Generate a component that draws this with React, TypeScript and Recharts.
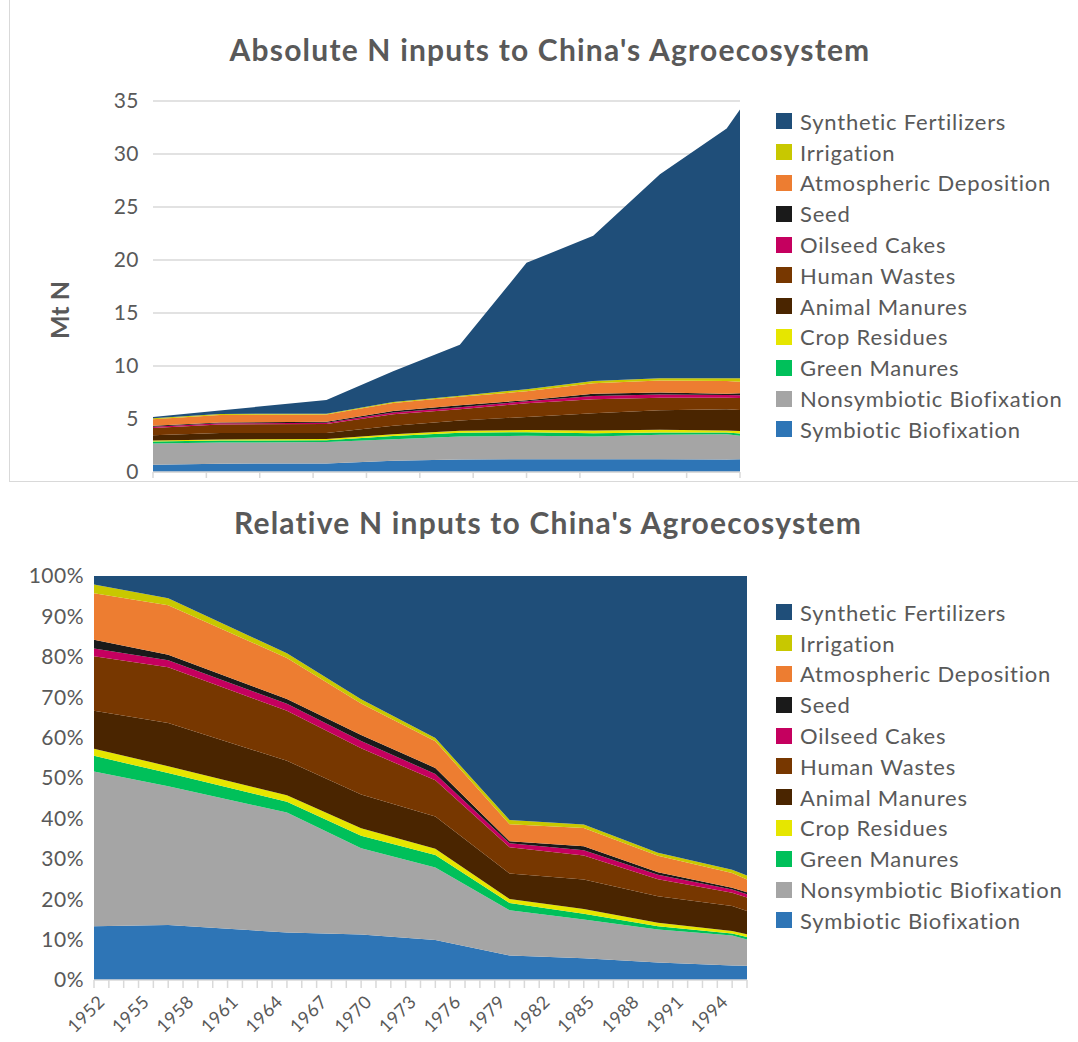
import { Area, AreaChart, CartesianGrid, XAxis, YAxis } from "recharts";

const years = [1952, 1957, 1965, 1970, 1975, 1980, 1985, 1990, 1995, 1996];

// Mt N per source
const symbiotic = [0.69, 0.79, 0.8, 1.07, 1.19, 1.2, 1.2, 1.21, 1.17, 1.2];
const nonsymbiotic = [1.99, 1.99, 2.02, 2.03, 2.15, 2.21, 2.14, 2.3, 2.4, 2.22];
const greenManures = [0.2, 0.19, 0.18, 0.29, 0.37, 0.35, 0.31, 0.22, 0.16, 0.21];
const cropResidues = [0.09, 0.1, 0.11, 0.18, 0.19, 0.2, 0.27, 0.25, 0.19, 0.24];
const animalManures = [0.49, 0.62, 0.58, 0.79, 0.96, 1.24, 1.63, 1.85, 2.01, 1.98];
const humanWastes = [0.7, 0.8, 0.84, 1.09, 1.07, 1.28, 1.32, 1.18, 1.07, 1.13];
const oilseedCakes = [0.1, 0.1, 0.12, 0.17, 0.19, 0.2, 0.29, 0.31, 0.26, 0.27];
const seed = [0.11, 0.08, 0.08, 0.14, 0.18, 0.1, 0.22, 0.17, 0.13, 0.17];
const atmospheric = [0.6, 0.71, 0.69, 0.74, 0.79, 0.83, 1.0, 1.15, 1.2, 1.09];
const irrigation = [0.11, 0.1, 0.08, 0.1, 0.1, 0.2, 0.2, 0.2, 0.26, 0.34];
const synthetic = [0.11, 0.32, 1.3, 2.9, 4.81, 11.92, 13.71, 19.25, 23.55, 25.34];

const series = [
  { key: "symbiotic", name: "Symbiotic Biofixation", color: "#2E75B6", values: symbiotic },
  { key: "nonsymbiotic", name: "Nonsymbiotic Biofixation", color: "#A5A5A5", values: nonsymbiotic },
  { key: "green", name: "Green Manures", color: "#00C05A", values: greenManures },
  { key: "crop", name: "Crop Residues", color: "#E6E600", values: cropResidues },
  { key: "animal", name: "Animal Manures", color: "#4A2500", values: animalManures },
  { key: "human", name: "Human Wastes", color: "#773700", values: humanWastes },
  { key: "oilseed", name: "Oilseed Cakes", color: "#C5005F", values: oilseedCakes },
  { key: "seed", name: "Seed", color: "#1A1A1A", values: seed },
  { key: "atmo", name: "Atmospheric Deposition", color: "#ED7D31", values: atmospheric },
  { key: "irrigation", name: "Irrigation", color: "#C8C800", values: irrigation },
  { key: "synthetic", name: "Synthetic Fertilizers", color: "#1F4E79", values: synthetic },
];

const absTicks = [0, 5, 10, 15, 20, 25, 30, 35];
const pctTicks = [0, 0.1, 0.2, 0.3, 0.4, 0.5, 0.6, 0.7, 0.8, 0.9, 1];
const evenYears = Array.from({ length: 23 }, (_, i) => 1952 + i * 2);
const allYears = Array.from({ length: 45 }, (_, i) => 1952 + i);

const rows = years.map((year, i) => {
  const row: Record<string, number> = { year };
  series.forEach((s) => {
    row[s.key] = s.values[i];
  });
  return row;
});

const textColor = "#595959";
const gridColor = "#D9D9D9";

const titleStyle = {
  position: "absolute" as const,
  transform: "translateX(-50%)",
  whiteSpace: "nowrap" as const,
  fontSize: 30,
  letterSpacing: 1.2,
  fontWeight: 700,
  color: textColor,
};

function LegendBox({ top }: { top: number }) {
  return (
    <div style={{ position: "absolute", left: 776, top }}>
      {[...series].reverse().map((s) => (
        <div
          key={s.key}
          style={{
            display: "flex",
            alignItems: "center",
            height: 30.8,
            fontSize: 22,
            letterSpacing: 0.8,
            color: textColor,
            whiteSpace: "nowrap",
          }}
        >
          <span style={{ width: 16, height: 16, background: s.color, marginRight: 8, display: "inline-block" }} />
          {s.name}
        </div>
      ))}
    </div>
  );
}

function YearTick(props: any) {
  const { x, y, payload } = props;
  if ((payload.value - 1952) % 3 !== 0) return <g />;
  return (
    <text
      x={x + 3}
      y={y + 4}
      transform={`rotate(-45, ${x + 3}, ${y + 4})`}
      textAnchor="end"
      dy="0.7em"
      fontSize={18}
      letterSpacing={0.5}
      fill={textColor}
    >
      {payload.value}
    </text>
  );
}

function areas() {
  return series.map((s) => (
    <Area
      key={s.key}
      type="linear"
      dataKey={s.key}
      name={s.name}
      stackId="1"
      stroke="none"
      fill={s.color}
      fillOpacity={1}
      isAnimationActive={false}
    />
  ));
}

export default function App() {
  return (
    <div
      style={{
        position: "absolute",
        left: 0,
        top: 0,
        width: 1078,
        height: 1042,
        background: "#fff",
        fontFamily: "Lato, 'Open Sans', sans-serif",
        overflow: "hidden",
      }}
    >
      <div
        style={{
          position: "absolute",
          left: 9,
          top: 0,
          width: 1069,
          height: 481,
          borderLeft: `1px solid ${gridColor}`,
          borderBottom: `1px solid ${gridColor}`,
        }}
      />

      <div style={{ ...titleStyle, left: 550, top: 31 }}>Absolute N inputs to China's Agroecosystem</div>

      <div
        style={{
          position: "absolute",
          left: 59,
          top: 310,
          transform: "translate(-50%, -50%) rotate(-90deg)",
          whiteSpace: "nowrap",
          fontSize: 25,
          fontWeight: 700,
          color: textColor,
        }}
      >
        Mt N
      </div>

      <div style={{ position: "absolute", left: 0, top: 0 }}>
        <AreaChart width={1078} height={490} data={rows} margin={{ top: 101, right: 338, bottom: 6, left: 93 }}>
          <CartesianGrid vertical={false} stroke={gridColor} strokeWidth={1.5} />
          <XAxis
            dataKey="year"
            type="number"
            domain={[1952, 1996]}
            ticks={evenYears}
            height={12}
            tick={() => <g />}
            tickSize={6}
            axisLine={{ stroke: gridColor, strokeWidth: 1.5 }}
            tickLine={{ stroke: gridColor, strokeWidth: 1.5 }}
          />
          <YAxis
            type="number"
            domain={[0, 35]}
            ticks={absTicks}
            width={60}
            axisLine={false}
            tickLine={false}
            tickMargin={8}
            tick={{ fill: textColor, fontSize: 21, letterSpacing: 0.5 }}
          />
          {areas()}
        </AreaChart>
      </div>
      <LegendBox top={106} />

      <div style={{ ...titleStyle, left: 548, top: 504 }}>Relative N inputs to China's Agroecosystem</div>

      <div style={{ position: "absolute", left: 0, top: 490 }}>
        <AreaChart
          width={1078}
          height={552}
          data={rows}
          stackOffset="expand"
          margin={{ top: 86, right: 331, bottom: 2, left: 34 }}
        >
          <XAxis
            dataKey="year"
            type="number"
            domain={[1952, 1996]}
            ticks={allYears}
            interval={0}
            height={60}
            tick={<YearTick />}
            tickSize={8}
            axisLine={{ stroke: gridColor, strokeWidth: 1.5 }}
            tickLine={{ stroke: gridColor, strokeWidth: 1.5 }}
          />
          <YAxis
            type="number"
            domain={[0, 1]}
            ticks={pctTicks}
            width={60}
            axisLine={false}
            tickLine={false}
            tickMargin={4}
            tick={{ fill: textColor, fontSize: 21, letterSpacing: 0.5 }}
            tickFormatter={(v: number) => `${Math.round(v * 100)}%`}
          />
          {areas()}
        </AreaChart>
      </div>
      <LegendBox top={597} />
    </div>
  );
}
